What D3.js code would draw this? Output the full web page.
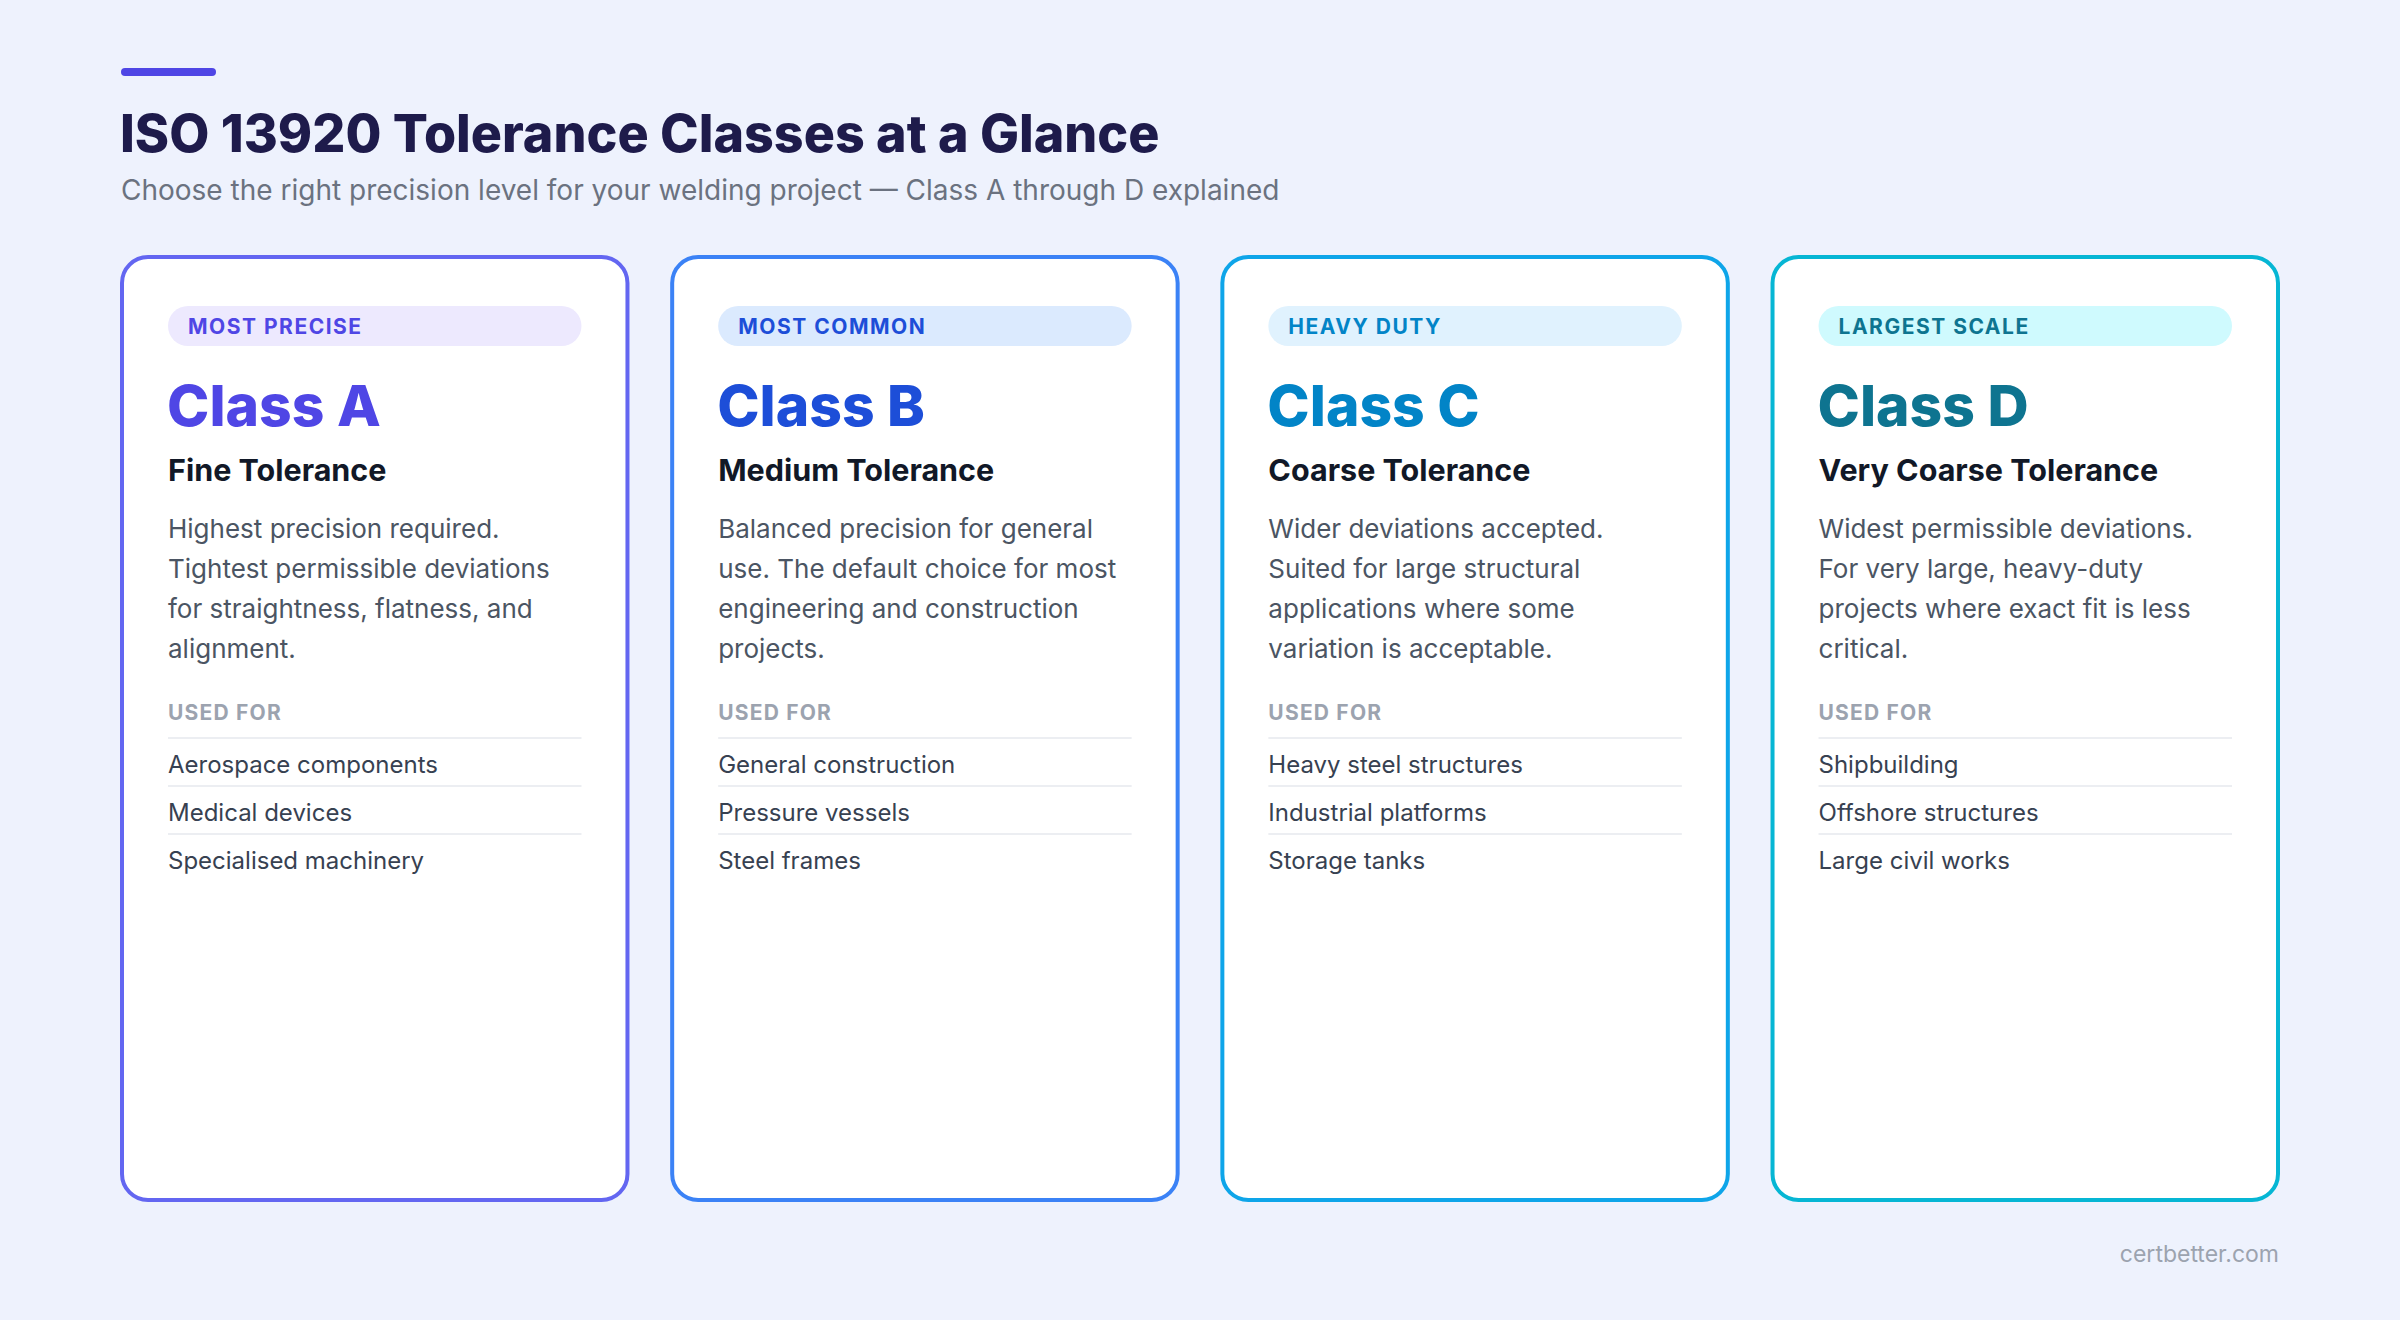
<!DOCTYPE html>
<html>
<head>
<meta charset="utf-8">
<script src="https://cdn.jsdelivr.net/npm/d3@7"></script>
<style>
  body { margin: 0; background: #eef2fd; }
  svg text { font-family: Inter, "Noto Sans", sans-serif; }
</style>
</head>
<body>
<svg id="chart" width="2400" height="1320"></svg>
<script>
// card data
var classNames = ['Class A', 'Class B', 'Class C', 'Class D'];
var badges = ['MOST PRECISE', 'MOST COMMON', 'HEAVY DUTY', 'LARGEST SCALE'];
var tolerances = ['Fine Tolerance', 'Medium Tolerance', 'Coarse Tolerance', 'Very Coarse Tolerance'];
var descriptions = [
  ['Highest precision required.', 'Tightest permissible deviations', 'for straightness, flatness, and', 'alignment.'],
  ['Balanced precision for general', 'use. The default choice for most', 'engineering and construction', 'projects.'],
  ['Wider deviations accepted.', 'Suited for large structural', 'applications where some', 'variation is acceptable.'],
  ['Widest permissible deviations.', 'For very large, heavy-duty', 'projects where exact fit is less', 'critical.']
];
var usedFor = [
  ['Aerospace components', 'Medical devices', 'Specialised machinery'],
  ['General construction', 'Pressure vessels', 'Steel frames'],
  ['Heavy steel structures', 'Industrial platforms', 'Storage tanks'],
  ['Shipbuilding', 'Offshore structures', 'Large civil works']
];

var borderColors = ['#6366f1', '#3b82f6', '#0ea5e9', '#06b6d4'];
var accentColors = ['#4f46e5', '#1d4ed8', '#0284c7', '#0e7490'];
var pillColors = ['#ede9fe', '#dbeafe', '#e0f2fe', '#cffafe'];

var svg = d3.select('#chart');

// header
svg.append('rect').attr('x', 121).attr('y', 68).attr('width', 95).attr('height', 8)
  .attr('rx', 4).attr('fill', '#4f46e5');
svg.append('text').attr('x', 120).attr('y', 152).attr('font-size', 52).attr('font-weight', 800)
  .attr('fill', '#1e1b4b')
  .text('ISO 13920 Tolerance Classes at a Glance');
svg.append('text').attr('x', 121).attr('y', 200).attr('font-size', 28).attr('fill', '#6b7280')
  .text('Choose the right precision level for your welding project \u2014 Class A through D explained');

var x = d3.scaleBand().domain(classNames).range([120, 2280]).paddingInner(0.074);

var cards = svg.selectAll('g.card').data(classNames).enter().append('g')
  .attr('class', 'card')
  .attr('transform', function(d) { return 'translate(' + x(d) + ',0)'; });

var w = x.bandwidth();
var pad = 48;

cards.append('rect').attr('x', 2).attr('y', 257).attr('width', w - 4).attr('height', 943)
  .attr('rx', 26).attr('fill', '#fff')
  .attr('stroke', function(d, i) { return borderColors[i]; }).attr('stroke-width', 4);

cards.append('rect').attr('x', pad).attr('y', 306).attr('width', w - 2 * pad).attr('height', 40)
  .attr('rx', 20).attr('fill', function(d, i) { return pillColors[i]; });
cards.append('text').attr('x', pad + 20).attr('y', 334).attr('font-size', 21).attr('font-weight', 700)
  .attr('letter-spacing', 1.5).attr('fill', function(d, i) { return accentColors[i]; })
  .text(function(d, i) { return badges[i]; });

cards.append('text').attr('x', pad - 1).attr('y', 426).attr('font-size', 57).attr('font-weight', 800)
  .attr('fill', function(d, i) { return accentColors[i]; })
  .text(function(d) { return d; });

cards.append('text').attr('x', pad).attr('y', 481).attr('font-size', 30.5).attr('font-weight', 700)
  .attr('fill', '#111827')
  .text(function(d, i) { return tolerances[i]; });

cards.each(function(d, i) {
  var g = d3.select(this);
  g.selectAll('text.desc').data(descriptions[i]).enter().append('text')
    .attr('class', 'desc').attr('x', pad).attr('y', function(t, j) { return 538 + j * 40; })
    .attr('font-size', 26).attr('fill', '#4b5563').text(function(t) { return t; });

  g.append('text').attr('x', pad).attr('y', 720).attr('font-size', 21).attr('font-weight', 700)
    .attr('letter-spacing', 1.2).attr('fill', '#9ca3af').text('USED FOR');

  var rows = g.selectAll('g.row').data(usedFor[i]).enter().append('g')
    .attr('class', 'row').attr('transform', function(t, j) { return 'translate(0,' + (738 + j * 48) + ')'; });
  rows.append('line').attr('x1', pad).attr('x2', w - pad).attr('y1', 0).attr('y2', 0)
    .attr('stroke', '#eceef2').attr('stroke-width', 2);
  rows.append('text').attr('x', pad).attr('y', 35).attr('font-size', 24).attr('fill', '#374151')
    .text(function(t) { return t; });
});

svg.append('text').attr('x', 2279).attr('y', 1262).attr('text-anchor', 'end')
  .attr('font-size', 23).attr('fill', '#9ca3af').text('certbetter.com');
</script>
</body>
</html>
